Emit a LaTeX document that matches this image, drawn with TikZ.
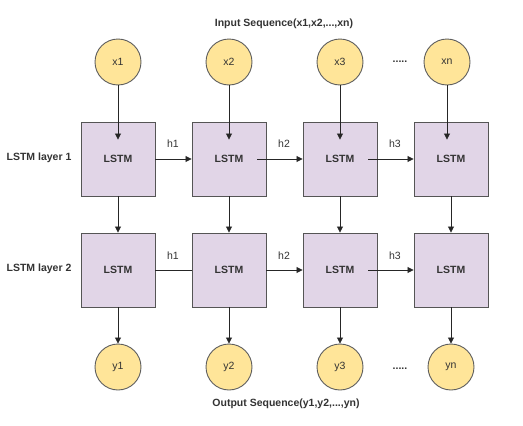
\documentclass[tikz,border=0pt]{standalone}
\usepackage{fontspec}
\setmainfont{Liberation Sans}
\usetikzlibrary{arrows.meta}
\definecolor{cfill}{HTML}{FFE599}
\definecolor{cdraw}{HTML}{5E5E5E}
\definecolor{bfill}{HTML}{E1D5E7}
\definecolor{bdraw}{HTML}{555555}
\definecolor{txt}{HTML}{333333}
\begin{document}
\begin{tikzpicture}[x=1pt,y=-1pt,
  font=\fontsize{10.5}{12}\selectfont,
  seqnode/.style={circle,draw=cdraw,fill=cfill,line width=0.9pt,minimum size=46pt,inner sep=0pt,text=txt},
  lstmbox/.style={rectangle,draw=bdraw,fill=bfill,line width=0.9pt,minimum size=74pt,inner sep=0pt,font=\fontsize{10.5}{12}\selectfont\bfseries,text=txt},
  conn/.style={draw=black!85,line width=0.8pt,-{Triangle[length=6pt,width=6pt]}},
  plain/.style={draw=black!85,line width=0.8pt},
  lbl/.style={text=txt,inner sep=0pt},
  title/.style={text=txt,font=\fontsize{10.5}{12}\selectfont\bfseries,inner sep=0pt}]
\useasboundingbox (0,0) rectangle (523,426);
% inputs
\node[seqnode] (x1) at (118,62) {x1};
\node[seqnode] (x2) at (229,62) {x2};
\node[seqnode] (x3) at (340,62) {x3};
\node[seqnode] (xn) at (447,62) {xn};
\node[lbl,font=\fontsize{10.5}{12}\selectfont\bfseries] (dx) at (400,62) {.....};
\node[title] (tin) at (284,24) {Input Sequence(x1,x2,...,xn)};
% layer 1
\node[lstmbox] (a1) at (118,159) {LSTM};
\node[lstmbox] (a2) at (229,159) {LSTM};
\node[lstmbox] (a3) at (340,159) {LSTM};
\node[lstmbox] (a4) at (451,159) {LSTM};
% layer 2
\node[lstmbox] (b1) at (118,270) {LSTM};
\node[lstmbox] (b2) at (229,270) {LSTM};
\node[lstmbox] (b3) at (340,270) {LSTM};
\node[lstmbox] (b4) at (451,270) {LSTM};
% outputs
\node[seqnode] (y1) at (118,367) {y1};
\node[seqnode] (y2) at (229,367) {y2};
\node[seqnode] (y3) at (340,367) {y3};
\node[seqnode] (yn) at (451,367) {yn};
\node[lbl,font=\fontsize{10.5}{12}\selectfont\bfseries] (dy) at (400,369) {.....};
\node[title] (tout) at (286,404) {Output Sequence(y1,y2,...,yn)};
% layer labels
\node[title] (l1) at (39,158) {LSTM layer 1};
\node[title] (l2) at (39,269) {LSTM layer 2};
% h labels
\node[lbl] (h1a) at (173,144) {h1};
\node[lbl] (h2a) at (284,144) {h2};
\node[lbl] (h3a) at (395,144) {h3};
\node[lbl] (h1b) at (173,256) {h1};
\node[lbl] (h2b) at (284,256) {h2};
\node[lbl] (h3b) at (395,256) {h3};
% input arrows
\draw[conn] (x1) -- ([yshift=-18pt]a1.north);
\draw[conn] (x2) -- ([yshift=-18pt]a2.north);
\draw[conn] (x3) -- ([yshift=-18pt]a3.north);
\draw[conn] (xn) -- ([xshift=-4pt,yshift=-18pt]a4.north);
% layer 1 recurrent
\draw[conn] (a1.east) -- (a2.west);
\draw[conn] ([xshift=-9pt]a2.east) -- (a3.west);
\draw[conn] ([xshift=-9pt]a3.east) -- (a4.west);
% layer1 -> layer2
\draw[conn] (a1) -- (b1);
\draw[conn] (a2) -- (b2);
\draw[conn] (a3) -- (b3);
\draw[conn] (a4) -- (b4);
% layer 2 recurrent
\draw[plain] (b1.east) -- (b2.west);
\draw[conn] (b2.east) -- (b3.west);
\draw[conn] ([xshift=-9pt]b3.east) -- (b4.west);
% outputs
\draw[conn] (b1) -- (y1);
\draw[conn] (b2) -- (y2);
\draw[conn] (b3) -- (y3);
\draw[conn] (b4) -- (yn);
\end{tikzpicture}
\end{document}
